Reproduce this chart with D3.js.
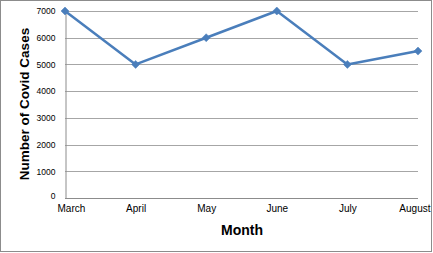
<!DOCTYPE html>
<html><head><meta charset="utf-8">
<script src="https://cdn.jsdelivr.net/npm/d3@7"></script>
<style>body{margin:0;background:#fff}svg{display:block}</style>
</head><body>
<script>
const months = ["March","April","May","June","July","August"];
const cases = [7000, 5000, 6000, 7000, 5000, 5500];
const yTicks = [0,1000,2000,3000,4000,5000,6000,7000];

const W = 433, H = 253;
const svg = d3.select("body").append("svg").attr("width", W).attr("height", H);
svg.append("rect").attr("x",0.5).attr("y",0.5).attr("width",431).attr("height",251)
  .attr("fill","#fff").attr("stroke","#8c8c8c").attr("stroke-width",1);

const x = d3.scalePoint().domain(months).range([65, 418]);
const y = d3.scaleLinear().domain([0, 7000]).range([198, 11]);

// gridlines
svg.append("g").selectAll("line").data(yTicks.filter(d=>d>0)).join("line")
  .attr("x1", 65).attr("x2", 418)
  .attr("y1", d => Math.round(y(d))+0.5).attr("y2", d => Math.round(y(d))+0.5)
  .attr("stroke", "#a6a6a6").attr("stroke-width", 1);

// y axis
const yAxis = svg.append("g").attr("transform","translate(65.5,0)")
  .call(d3.axisLeft(y).tickValues(yTicks).tickSize(0).tickPadding(10).tickFormat(d3.format("d")));
yAxis.select(".domain").attr("stroke","#8c8c8c");
yAxis.selectAll("text").attr("font-family","Liberation Sans, Arial, sans-serif").attr("font-size","8.5px").attr("fill","#000");
yAxis.selectAll(".tick").filter(d=>d===0).select("text").attr("dy","0.1em");

// x axis baseline
const xAxis = svg.append("g").attr("transform","translate(0,198.5)")
  .call(d3.axisBottom(x).tickSize(0));
xAxis.select(".domain").attr("stroke","#8c8c8c").attr("d","M65,0H418");
const n = months.length;
xAxis.selectAll("text").attr("font-family","Liberation Sans, Arial, sans-serif").attr("font-size","10px").attr("fill","#000")
  .attr("dy",null).attr("y",13)
  .attr("text-anchor",(d,i)=> i===0 ? "start" : (i===n-1 ? "end" : "middle"))
  .attr("x",(d,i)=> i===0 ? -8 : (i===n-1 ? 12 : 0));

// line
const line = d3.line().x((d,i)=>x(months[i])).y(d=>y(d));
svg.append("path").datum(cases).attr("d", line).attr("fill","none")
  .attr("stroke","#4a7ebb").attr("stroke-width",2.5).attr("stroke-linejoin","round");

// diamond markers
svg.append("g").selectAll("path").data(cases).join("path")
  .attr("transform",(d,i)=>`translate(${x(months[i])},${y(d)})`)
  .attr("d","M0,-4L4,0L0,4L-4,0Z").attr("fill","#4a7ebb").attr("stroke","#4a7ebb").attr("stroke-width",0.5);

// titles
svg.append("text").attr("x",242).attr("y",235).attr("text-anchor","middle")
  .attr("font-family","Liberation Sans, Arial, sans-serif").attr("font-weight","bold").attr("font-size","14px")
  .text("Month");
svg.append("text").attr("transform","translate(29,104) rotate(-90)").attr("text-anchor","middle")
  .attr("font-family","Liberation Sans, Arial, sans-serif").attr("font-weight","bold").attr("font-size","13.5px")
  .text("Number of Covid Cases");
</script>
</body></html>
